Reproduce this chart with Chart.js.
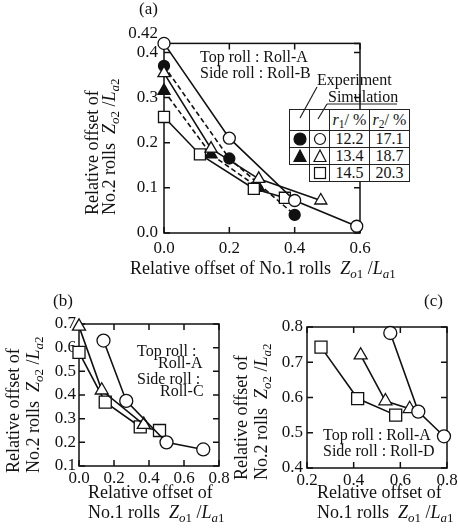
<!DOCTYPE html>
<html>
<head>
<meta charset="utf-8">
<script src="https://cdn.jsdelivr.net/npm/chart.js@4.4.0/dist/chart.umd.min.js"></script>
<style>
  html, body { margin: 0; padding: 0; background: #fff; width: 458px; height: 528px; overflow: hidden; }
  body { position: relative; font-family: 'Liberation Serif', 'Times New Roman', serif; color: #111; }
  canvas { position: absolute; }
  .t { position: absolute; white-space: nowrap; font-size: 18px; line-height: 20px; }
  .s { font-size: 16px; line-height: 16px; }
  .rot { transform-origin: 0 0; transform: rotate(-90deg); }
  sub { font-size: 72%; vertical-align: -0.3em; line-height: 0; }
  #leg { position: absolute; left: 289px; top: 109px; border-collapse: collapse; background: #fff;
         table-layout: fixed; width: 120px; font-size: 16px; }
  #leg td { border: 1.3px solid #222; padding: 0; text-align: center; height: 16px; line-height: 16px; }
  #leg tr:first-child td { height: 20px; }
  #leg svg { display: block; margin: 0 auto; }
</style>
</head>
<body>

<canvas id="ca" width="276" height="246" style="left:104px; top:17px"></canvas>
<canvas id="cb" width="200" height="184" style="left:35px; top:308px"></canvas>
<canvas id="cc" width="198" height="183" style="left:263px; top:311px"></canvas>

<!-- panel labels -->
<div class="t" style="left:139px; top:-1px; font-size:17px">(a)</div>
<div class="t" style="left:53px; top:291px; font-size:17px">(b)</div>
<div class="t" style="left:424px; top:291px; font-size:17px">(c)</div>

<!-- axis titles -->
<div class="t rot" style="left:84px; top:215px; line-height:17px">Relative offset of<br>No.2 rolls&nbsp; <i>Z</i><sub><i>o</i>2</sub> /<i>L</i><sub><i>a</i>2</sub></div>
<div class="t" style="left:130px; top:258px">Relative offset of No.1 rolls&nbsp; <i>Z</i><sub><i>o</i>1</sub> /<i>L</i><sub><i>a</i>1</sub></div>

<div class="t rot" style="left:3px; top:473px">Relative offset of<br>No.2 rolls&nbsp; <i>Z</i><sub><i>o</i>2</sub> /<i>L</i><sub><i>a</i>2</sub></div>
<div class="t" style="left:88px; top:482px">Relative offset of<br>No.1 rolls&nbsp; <i>Z</i><sub><i>o</i>1</sub> /<i>L</i><sub><i>a</i>1</sub></div>

<div class="t rot" style="left:231px; top:480px">Relative offset of<br>No.2 rolls&nbsp; <i>Z</i><sub><i>o</i>2</sub> /<i>L</i><sub><i>a</i>2</sub></div>
<div class="t" style="left:317px; top:482px">Relative offset of<br>No.1 rolls&nbsp; <i>Z</i><sub><i>o</i>1</sub> /<i>L</i><sub><i>a</i>1</sub></div>

<!-- notes inside plots -->
<div class="t s" style="left:200px; top:49px">Top roll : Roll-A</div>
<div class="t s" style="left:200px; top:65px">Side roll : Roll-B</div>

<div class="t s" style="left:137px; top:343px">Top roll :</div>
<div class="t s" style="left:158px; top:355px">Roll-A</div>
<div class="t s" style="left:137px; top:371px">Side roll :</div>
<div class="t s" style="left:160px; top:383px">Roll-C</div>

<div class="t s" style="left:323px; top:427px">Top roll : Roll-A</div>
<div class="t s" style="left:323px; top:443px">Side roll : Roll-D</div>

<!-- legend table of (a) -->
<div class="t s" style="left:317px; top:72px">Experiment</div>
<div class="t s" style="left:328px; top:89px">Simulation</div>
<table id="leg"></table>
<svg width="458" height="528" style="position:absolute; left:0; top:0; pointer-events:none">
  <g stroke="#222" stroke-width="1.2" fill="none">
    <line x1="317" y1="87" x2="300" y2="118"/>
    <line x1="327" y1="104" x2="397" y2="104"/>
    <line x1="327" y1="104" x2="318" y2="119"/>
  </g>
</svg>

<script>
// ---- data, panel (a): top roll Roll-A, side roll Roll-B ----
const aXTicks = [0, 0.2, 0.4, 0.6];
const aYTicks = [0, 0.1, 0.2, 0.3, 0.4, 0.42];
// simulation (open symbols, solid lines)
const aSimCircleX = [0, 0.2, 0.4, 0.59];
const aSimCircleY = [0.42, 0.21, 0.072, 0.015];
const aSimTriX = [0, 0.144, 0.29, 0.48];
const aSimTriY = [0.354, 0.187, 0.12, 0.072];
const aSimSquareX = [0, 0.11, 0.275, 0.37];
const aSimSquareY = [0.257, 0.174, 0.098, 0.078];
// experiment (filled symbols, dashed lines)
const aExpCircleX = [0, 0.2, 0.4];
const aExpCircleY = [0.37, 0.165, 0.04];
const aExpTriX = [0, 0.144, 0.29];
const aExpTriY = [0.315, 0.174, 0.10];

// legend table values
const legR1 = ['12.2', '13.4', '14.5'];
const legR2 = ['17.1', '18.7', '20.3'];

// ---- data, panel (b): Roll-A / Roll-C ----
const bXTicks = [0, 0.2, 0.4, 0.6, 0.8];
const bYTicks = [0.1, 0.2, 0.3, 0.4, 0.5, 0.6, 0.7];
const bCircleX = [0.14, 0.27, 0.50, 0.71];
const bCircleY = [0.63, 0.375, 0.20, 0.17];
const bTriX = [0, 0.13, 0.37];
const bTriY = [0.69, 0.42, 0.275];
const bSquareX = [0, 0.15, 0.35, 0.46];
const bSquareY = [0.58, 0.37, 0.265, 0.25];

// ---- data, panel (c): Roll-A / Roll-D ----
const cXTicks = [0.2, 0.4, 0.6, 0.8];
const cYTicks = [0.4, 0.5, 0.6, 0.7, 0.8];
const cCircleX = [0.557, 0.677, 0.787];
const cCircleY = [0.783, 0.56, 0.49];
const cTriX = [0.43, 0.536, 0.64];
const cTriY = [0.72, 0.59, 0.568];
const cSquareX = [0.26, 0.417, 0.58];
const cSquareY = [0.743, 0.597, 0.55];

const INK = '#111';
const FONT = 'Liberation Serif';

// box frame + inward ticks on all four sides
const frameTicks = {
  id: 'frameTicks',
  beforeDatasetsDraw(chart) {
    const { ctx, chartArea: a, scales: { x, y } } = chart;
    ctx.save();
    ctx.strokeStyle = INK;
    ctx.lineWidth = 1.5;
    ctx.strokeRect(a.left, a.top, a.right - a.left, a.bottom - a.top);
    ctx.beginPath();
    x.ticks.forEach(t => {
      const px = x.getPixelForValue(t.value);
      ctx.moveTo(px, a.bottom); ctx.lineTo(px, a.bottom - 6);
      ctx.moveTo(px, a.top); ctx.lineTo(px, a.top + 6);
    });
    y.ticks.forEach(t => {
      const py = y.getPixelForValue(t.value);
      ctx.moveTo(a.left, py); ctx.lineTo(a.left + 6, py);
      ctx.moveTo(a.right, py); ctx.lineTo(a.right - 6, py);
    });
    ctx.stroke();
    ctx.restore();
  }
};

function series(xs, ys, shape, filled, dashed, r) {
  return {
    data: xs.map((x, i) => ({ x: x, y: ys[i] })),
    showLine: true,
    borderColor: INK,
    borderWidth: 1.6,
    borderDash: dashed ? [5, 3] : [],
    pointStyle: shape,
    pointRadius: r,
    pointBorderWidth: 1.3,
    pointBackgroundColor: filled ? INK : '#fff',
    pointBorderColor: INK,
    clip: false
  };
}

function axis(ticks, isX, size, pad, fmt) {
  return {
    type: 'linear',
    min: ticks[0],
    max: ticks[ticks.length - 1],
    afterBuildTicks: s => { s.ticks = ticks.map(v => ({ value: v })); },
    afterFit: s => { if (isX) s.height = size; else s.width = size; },
    grid: { display: false, drawTicks: false },
    border: { display: false },
    ticks: {
      color: INK, autoSkip: false, maxRotation: 0, padding: pad,
      font: { family: FONT, size: 17 },
      callback: fmt || (v => v.toFixed(1))
    }
  };
}

function makeChart(id, datasets, xs, ys, padding) {
  return new Chart(document.getElementById(id), {
    type: 'scatter',
    data: { datasets: datasets },
    options: {
      responsive: false,
      animation: false,
      devicePixelRatio: 1,
      layout: { padding: padding },
      plugins: { legend: { display: false }, tooltip: { enabled: false } },
      scales: { x: xs, y: ys }
    },
    plugins: [frameTicks]
  });
}

// (a)
makeChart('ca', [
  series(aSimCircleX, aSimCircleY, 'circle', false, false, 6),
  series(aSimTriX, aSimTriY, 'triangle', false, false, 7),
  series(aSimSquareX, aSimSquareY, 'rect', false, false, 7.8),
  series(aExpCircleX, aExpCircleY, 'circle', true, true, 5.5),
  series(aExpTriX, aExpTriY, 'triangle', true, true, 7)
],
  axis(aXTicks, true, 30, 5),
  axis(aYTicks, false, 60, 6, v => v === 0.42 ? ['0.42', ''] : v.toFixed(1)),
  { left: 0, top: 24, right: 20, bottom: 0 });

// (b)
makeChart('cb', [
  series(bCircleX, bCircleY, 'circle', false, false, 6.5),
  series(bTriX, bTriY, 'triangle', false, false, 7.5),
  series(bSquareX, bSquareY, 'rect', false, false, 8.5)
],
  axis(bXTicks, true, 26, 2),
  axis(bYTicks, false, 44, 3),
  { left: 0, top: 16, right: 16, bottom: 0 });

// (c)
makeChart('cc', [
  series(cCircleX, cCircleY, 'circle', false, false, 6.5),
  series(cTriX, cTriY, 'triangle', false, false, 7.5),
  series(cSquareX, cSquareY, 'rect', false, false, 8.5)
],
  axis(cXTicks, true, 26, 2),
  axis(cYTicks, false, 44, 4),
  { left: 0, top: 16, right: 14, bottom: 0 });

// legend table for (a)
function mark(shape, filled) {
  const fill = filled ? INK : 'none';
  let el;
  if (shape === 'circle') el = '<circle cx="7" cy="7" r="' + (filled ? 6 : 5.5) + '"/>';
  else if (shape === 'triangle') el = '<polygon points="7,1 13,12.5 1,12.5"/>';
  else el = '<rect x="1.5" y="1.5" width="11" height="11"/>';
  return '<svg width="14" height="14"><g fill="' + fill + '" stroke="' + INK + '" stroke-width="1.2">' + el + '</g></svg>';
}
const legShapes = ['circle', 'triangle', 'rect'];
let rows = '<colgroup><col style="width:20px"><col style="width:20px"><col style="width:40px"><col style="width:40px"></colgroup>';
rows += '<tr><td></td><td></td><td><i>r</i><sub>1</sub>/ %</td><td><i>r</i><sub>2</sub>/ %</td></tr>';
legShapes.forEach((sh, i) => {
  const expCell = sh === 'rect'
    ? '<td style="border-left:hidden;border-bottom:hidden"></td>'
    : '<td>' + mark(sh, true) + '</td>';
  rows += '<tr>' + expCell + '<td>' + mark(sh, false) + '</td><td>' + legR1[i] + '</td><td>' + legR2[i] + '</td></tr>';
});
document.getElementById('leg').innerHTML = rows;
</script>
</body>
</html>
